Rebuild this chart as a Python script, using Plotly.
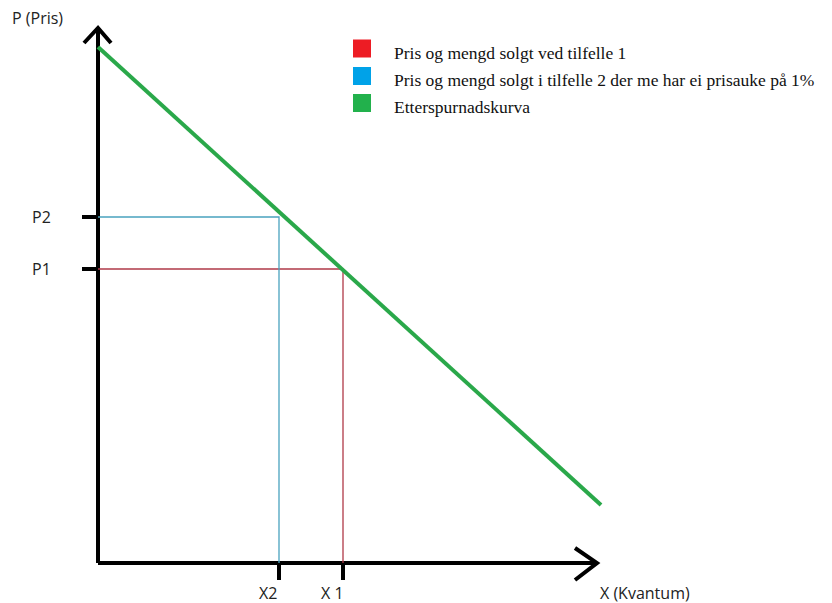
import plotly.graph_objects as go

# Data (units: quantity / price on the drawn scale)
demand_x = [0, 503]
demand_p = [516, 58]
X1, P1 = 245, 294
X2, P2 = 181, 346
x_axis_end = 499
y_axis_end = 535

legend_names = [
    "Pris og mengd solgt ved tilfelle 1",
    "Pris og mengd solgt i tilfelle 2 der me har ei prisauke på 1%",
    "Etterspurnadskurva",
]
legend_colors = ["#ed1c24", "#00a2e8", "#22b14c"]
legend_y = [514.5, 487, 460]
p_labels = ["P1", "P2"]
x_labels = ["X 1", "X2"]

fig = go.Figure()
black = dict(color="black", width=4)


def add_line(xs, ys, line):
    fig.add_trace(go.Scatter(x=xs, y=ys, mode="lines", line=line, showlegend=False, hoverinfo="skip"))


# Axes
add_line([0, 0], [0, y_axis_end], black)
add_line([0, x_axis_end], [0, 0], black)
# Arrow heads
add_line([-14, 0, 13], [y_axis_end - 15, y_axis_end, y_axis_end - 15], black)
add_line([x_axis_end - 22, x_axis_end, x_axis_end - 22], [15, 0, -17], black)

# Guide lines
add_line([0, X1, X1], [P1, P1, 0], dict(color="#b03a48", width=1.3))
add_line([0, X2, X2], [P2, P2, 0], dict(color="#4aa3bf", width=1.3))

# Demand curve
add_line(demand_x, demand_p, dict(color="#2aa84a", width=4))

# Tick marks
for p in [P1, P2]:
    add_line([-16, 0], [p, p], black)
for xv in [X1, X2]:
    add_line([xv, xv], [0, -17], black)

# Legend (manual)
fig.add_trace(go.Scatter(x=[264] * 3, y=legend_y, mode="markers", showlegend=False, hoverinfo="skip",
                         marker=dict(symbol="square", size=18, color=legend_colors, line=dict(width=0))))

lab_font = dict(family="Open Sans", size=16, color="#222")
leg_font = dict(family="Liberation Serif", size=17.5, color="#111")
annos = []
for name, ly in zip(legend_names, legend_y):
    annos.append(dict(x=294, y=ly - 4, text=name, showarrow=False, font=leg_font, xanchor="left", yanchor="middle"))
for lab, p in zip(p_labels, [P1, P2]):
    annos.append(dict(x=-57, y=p, text=lab, showarrow=False, font=lab_font, xanchor="center", yanchor="middle"))
for lab, xv in zip(x_labels, [X1, X2]):
    annos.append(dict(x=xv - 11, y=-30, text=lab, showarrow=False, font=lab_font,
                      xanchor="center", yanchor="middle"))
annos.append(dict(x=-61, y=545, text="P (Pris)", showarrow=False, font=lab_font, xanchor="center", yanchor="middle"))
annos.append(dict(x=547, y=-30, text="X (Kvantum)", showarrow=False, font=lab_font, xanchor="center", yanchor="middle"))

fig.update_layout(
    width=824, height=595,
    margin=dict(l=0, r=0, t=0, b=0),
    paper_bgcolor="white", plot_bgcolor="white",
    xaxis=dict(range=[-90, 734], visible=False, fixedrange=True),
    yaxis=dict(range=[-40, 555], visible=False, fixedrange=True),
    annotations=annos,
    showlegend=False,
)

fig.write_html("out.html")
